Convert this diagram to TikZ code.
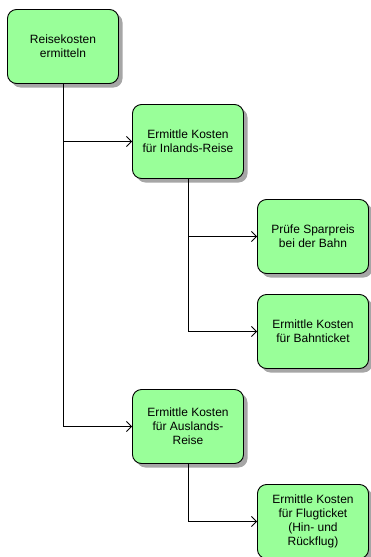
\documentclass[tikz,border=0pt]{standalone}
\usepackage{fontspec}
\setmainfont{Liberation Sans}
\usetikzlibrary{arrows.meta,shadows,trees}
\definecolor{taskgreen}{RGB}{153,255,153}

\begin{document}
\begin{tikzpicture}[
    task/.style={rectangle, draw, line width=0.9pt, rounded corners=9pt,
        fill=taskgreen, minimum width=111pt, minimum height=74pt, align=center,
        font=\fontsize{12pt}{14pt}\selectfont,
        drop shadow={shadow xshift=4pt, shadow yshift=-4pt, fill=black!35, opacity=1}},
    grow via three points={one child at (125pt,-95pt) and two children at (125pt,-95pt) and (125pt,-190pt)},
    parent anchor=south, child anchor=west,
    edge from parent/.style={draw, line width=0.8pt, -{Straight Barb[length=5pt,width=10pt]}},
    edge from parent path={(\tikzparentnode\tikzparentanchor) |- (\tikzchildnode\tikzchildanchor)}]
    \useasboundingbox (0,0) rectangle (371pt,-557pt);
    \node[task] (reise) at (63pt,-46.5pt) {Reisekosten\\ermitteln}
        child {node[task] (inland) {Ermittle Kosten\\für Inlands-Reise}
            child {node[task] (sparpreis) {Prüfe Sparpreis\\bei der Bahn}}
            child {node[task] (bahn) {Ermittle Kosten\\für Bahnticket}}
        }
        child[missing] {}
        child[missing] {}
        child {node[task] (ausland) {Ermittle Kosten\\für Auslands-\\Reise}
            child {node[task] (flug) {Ermittle Kosten\\für Flugticket\\(Hin- und\\Rückflug)}}
        };
\end{tikzpicture}
\end{document}
